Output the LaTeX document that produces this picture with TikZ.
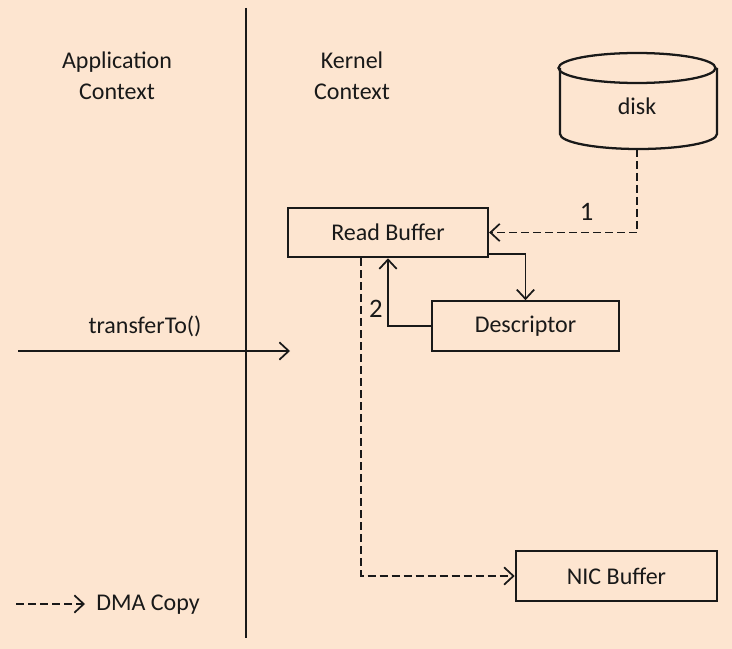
\documentclass[tikz,border=0pt]{standalone}
\usepackage{fontspec}
\setmainfont{Carlito}
\usetikzlibrary{arrows.meta,calc}
\definecolor{peach}{RGB}{253,229,208}
\definecolor{ink}{RGB}{25,25,25}

\begin{document}
\begin{tikzpicture}[x=0.75pt, y=-0.75pt,
    every node/.style={font=\fontsize{18}{23}\selectfont, text=ink},
    box/.style={draw=ink, line width=1.7pt, minimum height=37pt},
    solidarr/.style={draw=ink, line width=1.3pt, -{Straight Barb[length=7pt,width=13pt]}},
    dmaarr/.style={draw=ink, line width=1.3pt, dash pattern=on 6pt off 3pt, -{Straight Barb[length=7pt,width=13pt]}}]
            % Background
            \fill[peach] (0,0) rectangle (732,649);
            \useasboundingbox (0,0) rectangle (732,649);

            % Context divider
            \coordinate (divtop) at (246,8);
            \coordinate (divbot) at (246,638);
            \draw[ink, line width=1.7pt] (divtop) -- (divbot);
            \node[align=center] (app) at (117,76) {Application\\Context};
            \node[align=center] (kern) at (352,76) {Kernel\\Context};

            % Disk
            \node (disk) at (637,106) {disk};
            \draw[ink, line width=1.7pt] (560,68) -- (560,134) arc[start angle=180, end angle=0, x radius=78.5, y radius=15] -- (717,68);
            \draw[ink, line width=1.7pt] (637,68) ellipse[x radius=78.5, y radius=15];
            \coordinate (diskbot) at (637,149);

            % Buffers
            \node[box, minimum width=150pt] (rb) at (388,232.5) {Read Buffer};
            \node[box, minimum width=140pt] (desc) at (525.5,326) {Descriptor};
            \node[box, minimum width=151pt] (nic) at (616.5,576) {NIC Buffer};

            % Arrows
            \draw[dmaarr] (diskbot) |- (rb.east) node[pos=0.67, above, yshift=5pt, font=\fontsize{20}{24}\selectfont] (one) {1};
            \draw[solidarr] ([yshift=3pt]rb.south east) -| (desc.north);
            \draw[solidarr] (desc.west) -| (rb.south) node[pos=0.63, left, font=\fontsize{20}{24}\selectfont] (two) {2};
            \draw[dmaarr] ([xshift=-20pt]rb.south) |- (nic.west);

            % transferTo call
            \coordinate (tin) at (18,351);
            \coordinate (tout) at (290,351);
            \draw[solidarr] (tin) -- (tout);
            \node (call) at (145,326) {transferTo()};

            % Legend
            \coordinate (lga) at (16,604);
            \coordinate (lgb) at (85,604);
            \draw[dmaarr] (lga) -- (lgb);
            \node (lgtext) at (148,605) {DMA Copy};
\end{tikzpicture}
\end{document}
